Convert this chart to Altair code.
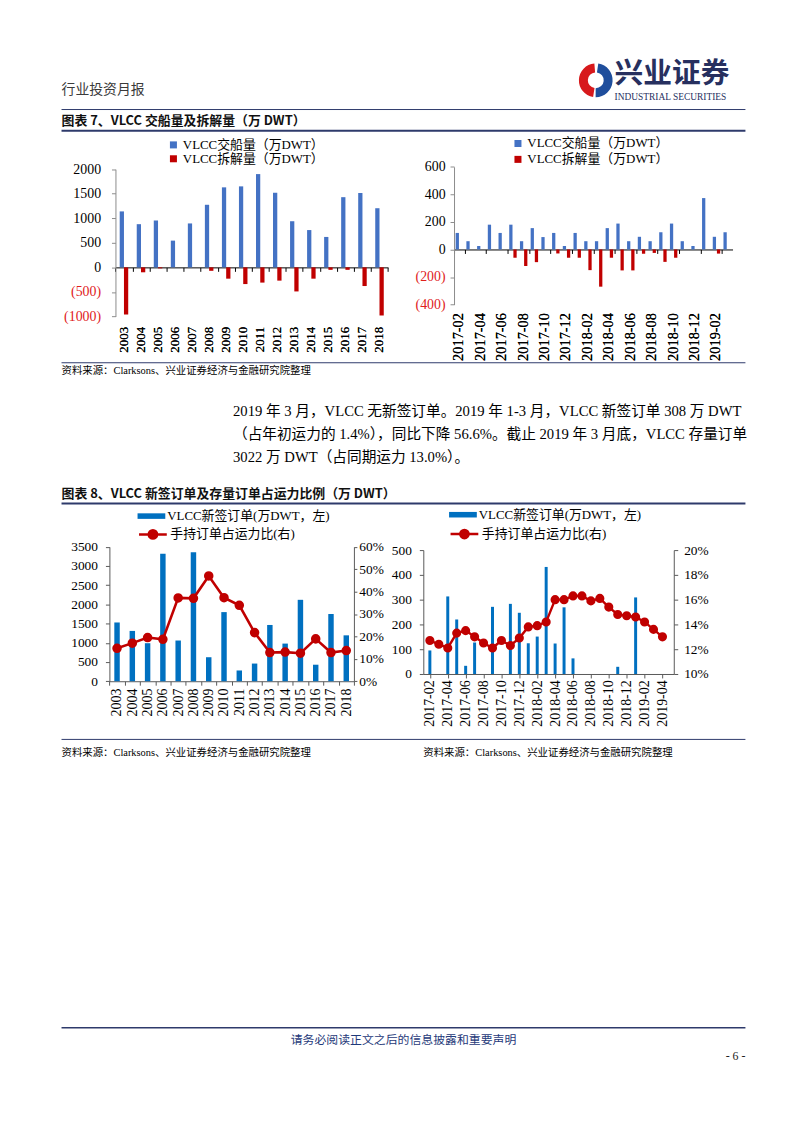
import altair as alt
import pandas as pd

# ---------------- data ----------------
years = ["2003", "2004", "2005", "2006", "2007", "2008", "2009", "2010",
         "2011", "2012", "2013", "2014", "2015", "2016", "2017", "2018"]
deliveries_annual = [1140, 880, 955, 545, 895, 1275, 1630, 1650, 1900, 1520, 940, 760, 620, 1430, 1515, 1205]
demolition_annual = [-960, -100, -20, 0, 0, -70, -230, -340, -310, -270, -490, -230, -50, -50, -380, -980]

months_del = ["2017-02", "2017-03", "2017-04", "2017-05", "2017-06", "2017-07", "2017-08", "2017-09",
              "2017-10", "2017-11", "2017-12", "2018-01", "2018-02", "2018-03", "2018-04", "2018-05",
              "2018-06", "2018-07", "2018-08", "2018-09", "2018-10", "2018-11", "2018-12", "2019-01",
              "2019-02", "2019-03"]
deliveries_monthly = [120, 60, 25, 180, 120, 180, 60, 155, 90, 120, 25, 120, 60, 60, 155, 188,
                      60, 92, 60, 125, 188, 60, 25, 373, 92, 125]
demolition_monthly = [0, 0, 0, 0, 0, -60, -120, -92, 0, -29, -60, -60, -150, -270, -60, -152,
                      -152, -31, -25, -90, -60, 0, 0, 0, -30, 0]

new_orders_annual = [1530, 1310, 990, 3320, 1060, 3360, 625, 1800, 280, 460, 1465, 980, 2120, 430, 1750, 1195]
orderbook_ratio_annual = [0.147, 0.170, 0.195, 0.187, 0.372, 0.370, 0.470, 0.373,
                          0.339, 0.217, 0.128, 0.130, 0.125, 0.189, 0.128, 0.137]

months_ord = months_del + ["2019-04"]
new_orders_monthly = [95, 0, 313, 220, 33, 127, 0, 271, 0, 283, 247, 124, 151, 432, 123, 269,
                      63, 0, 0, 0, 0, 29, 0, 309, 0, 0, 0]
orderbook_ratio_monthly = [0.127, 0.124, 0.121, 0.133, 0.135, 0.130, 0.125, 0.121, 0.127, 0.123,
                           0.129, 0.138, 0.139, 0.142, 0.160, 0.160, 0.163, 0.163, 0.159, 0.161,
                           0.154, 0.148, 0.147, 0.146, 0.142, 0.136, 0.130]

S_DEL = "VLCC交船量（万DWT）"
S_DEM = "VLCC拆解量（万DWT）"
L_ORD = "VLCC新签订单(万DWT，左)"
L_RAT = "手持订单占运力比(右)"

y1_ticks = [-1000, -500, 0, 500, 1000, 1500, 2000]
y2_ticks = [-400, -200, 0, 200, 400, 600]
y3_ticks = [0, 500, 1000, 1500, 2000, 2500, 3000, 3500]
r3_ticks = [0, 0.1, 0.2, 0.3, 0.4, 0.5, 0.6]
y4_ticks = [0, 100, 200, 300, 400, 500]
r4_ticks = [0.10, 0.12, 0.14, 0.16, 0.18, 0.20]

header_text = "行业投资月报"
logo_cn = "兴业证券"
logo_en = "INDUSTRIAL SECURITIES"
title7 = "图表 7、VLCC 交船量及拆解量（万 DWT）"
title8 = "图表 8、VLCC 新签订单及存量订单占运力比例（万 DWT）"
source_text = "资料来源：Clarksons、兴业证券经济与金融研究院整理"
paragraph = [
    "2019 年 3 月，VLCC 无新签订单。2019 年 1-3 月，VLCC 新签订单 308 万 DWT",
    "（占年初运力的 1.4%），同比下降 56.6%。截止 2019 年 3 月底，VLCC 存量订单",
    "3022 万 DWT（占同期运力 13.0%）。",
]
footer_text = "请务必阅读正文之后的信息披露和重要声明"
page_no = "- 6 -"

# ---------------- style ----------------
BLUE_A = "#4472C4"
RED_A = "#C00000"
BLUE_B = "#0070C0"
RED_B = "#C00000"
NEG_LABEL = "#E0201B"
NAVY = "#2E3A6B"
AXC = "#595959"
FONT_NUM = "Liberation Serif"
FONT_CN = "Liberation Serif, Noto Sans CJK SC"
FONT_SANS = "Noto Sans CJK SC"
VW, VH = 786, 1105          # one view covering the page (page coords minus 8px margin)
ONE = pd.DataFrame({"k": [0]})


def P(v):
    """page pixel -> view pixel"""
    return v - 8


def dtext(x, y, text, size=12, font=FONT_CN, weight="normal", color="#000000", align="left"):
    return alt.Chart(ONE).mark_text(text=text, fontSize=size, font=font, fontWeight=weight,
                                    color=color, align=align, baseline="middle").encode(
        x=alt.value(P(x)), y=alt.value(P(y)))


def drule(x0, x1, y, width=1, color=NAVY):
    return alt.Chart(ONE).mark_rule(strokeWidth=width, color=color).encode(
        x=alt.value(P(x0)), x2=alt.value(P(x1)), y=alt.value(P(y)))


def darc(cx, cy, t0, t1, r, r2, color):
    return alt.Chart(ONE).mark_arc(theta=t0, theta2=t1, radius=r, radius2=r2, color=color).encode(
        x=alt.value(P(cx)), y=alt.value(P(cy)))


# plot-area boxes in page pixels: left, right, top, bottom
C1 = (109.4, 384.4, 165.7, 314.3)
C2 = (451.0, 732.0, 163.3, 302.3)
C3 = (103.3, 350.0, 546.7, 682.3)
C4 = (420.0, 672.7, 550.0, 675.0)


def xr(c):
    return [P(c[0]), P(c[1])]


def yr(c):
    return [P(c[3]), P(c[2])]


def off_bottom(y_page):
    return -(VH - P(y_page))


def off_left(x_page):
    return -P(x_page)


def off_right(x_page):
    return -(VW - P(x_page))


neg_expr = "datum.value < 0 ? '(' + format(-datum.value, 'd') + ')' : format(datum.value, 'd')"
neg_color = {"condition": {"test": "datum.value < 0", "value": NEG_LABEL}, "value": "#000000"}

# ---------------- chart 1 ----------------
df1a = pd.DataFrame({"year": years, "series": S_DEL, "value": deliveries_annual})
df1b = pd.DataFrame({"year": years, "series": S_DEM, "value": demolition_annual})
xs1 = alt.Scale(domain=years, range=xr(C1), paddingInner=0, paddingOuter=0)
x1 = alt.X("year:N", sort=years, title=None, scale=xs1,
           axis=alt.Axis(orient="bottom", offset=off_bottom(C1[3]), labelAngle=270, domain=False,
                         ticks=False, labelFontSize=13, labelPadding=10, labelFont=FONT_NUM))
y1 = alt.Y("value:Q", title=None,
           scale=alt.Scale(domain=[-1000, 2000], range=yr(C1), nice=False, zero=False),
           axis=alt.Axis(orient="left", offset=off_left(C1[0]), values=y1_ticks, labelExpr=neg_expr,
                         labelColor=neg_color, grid=False, domainColor="#8c8c8c", tickColor="#8c8c8c",
                         tickSize=4, labelPadding=11, labelFontSize=14, labelFont=FONT_NUM))
col1 = alt.Color("series:N", scale=alt.Scale(domain=[S_DEL, S_DEM], range=[BLUE_A, RED_A]),
                 legend=alt.Legend(orient="none", legendX=P(C1[0]) + 52, legendY=P(C1[2]) - 31,
                                   title=None, symbolType="square", symbolSize=50, symbolStrokeWidth=0,
                                   rowPadding=0, labelOffset=3, labelFontSize=13))
b1a = alt.Chart(df1a).mark_bar(size=4.3, xOffset=-2.15).encode(x=x1, y=y1, color=col1)
b1b = alt.Chart(df1b).mark_bar(size=4.3, xOffset=2.15).encode(x=x1, y=y1, color=col1)
z1 = alt.Chart(pd.DataFrame({"year": years})).mark_point(opacity=0).encode(
    x=alt.X("year:N", sort=years, title=None, scale=xs1,
            axis=alt.Axis(orient="bottom", offset=off_bottom(C1[2] + (C1[3] - C1[2]) * 2 / 3),
                          labels=False, domain=True, ticks=True, tickBand="extent", tickSize=4,
                          domainColor="#000000", tickColor="#000000")))
chart1 = alt.layer(b1a, b1b, z1).resolve_axis(x="independent")

# ---------------- chart 2 ----------------
df2a = pd.DataFrame({"month": months_del, "series": S_DEL, "value": deliveries_monthly})
df2b = pd.DataFrame({"month": months_del, "series": S_DEM, "value": demolition_monthly})
xs2 = alt.Scale(domain=months_del, range=xr(C2), paddingInner=0, paddingOuter=0)
x2 = alt.X("month:N", sort=months_del, title=None, scale=xs2,
           axis=alt.Axis(orient="bottom", offset=off_bottom(C2[3]), labelAngle=270, domain=False,
                         ticks=False, values=months_del[::2], labelFontSize=14.5, labelPadding=8,
                         labelFont=FONT_NUM))
y2 = alt.Y("value:Q", title=None,
           scale=alt.Scale(domain=[-400, 600], range=yr(C2), nice=False, zero=False),
           axis=alt.Axis(orient="left", offset=off_left(C2[0]), values=y2_ticks, labelExpr=neg_expr,
                         labelColor=neg_color, grid=False, domainColor="#8c8c8c", tickColor="#8c8c8c",
                         tickSize=4, labelPadding=5, labelFontSize=14, labelFont=FONT_NUM))
col2 = alt.Color("series:N", scale=alt.Scale(domain=[S_DEL, S_DEM], range=[BLUE_A, RED_A]),
                 legend=alt.Legend(orient="none", legendX=P(C2[0]) + 58, legendY=P(C2[2]) - 30,
                                   title=None, symbolType="square", symbolSize=50, symbolStrokeWidth=0,
                                   rowPadding=2, labelOffset=3, labelFontSize=13))
b2a = alt.Chart(df2a).mark_bar(size=3.3, xOffset=-2.1).encode(x=x2, y=y2, color=col2)
b2b = alt.Chart(df2b).mark_bar(size=3.3, xOffset=2.1).encode(x=x2, y=y2, color=col2)
z2 = alt.Chart(pd.DataFrame({"month": months_del})).mark_point(opacity=0).encode(
    x=alt.X("month:N", sort=months_del, title=None, scale=xs2,
            axis=alt.Axis(orient="bottom", offset=off_bottom(C2[2] + (C2[3] - C2[2]) * 0.6),
                          labels=False, values=months_del[::2], domain=True, ticks=True,
                          tickBand="extent", tickSize=4, domainColor="#000000", tickColor="#000000")))
chart2 = alt.layer(b2a, b2b, z2).resolve_axis(x="independent")

# ---------------- chart 3 ----------------
df3 = pd.DataFrame({"year": years, "orders": new_orders_annual, "ratio": orderbook_ratio_annual,
                    "lab_o": L_ORD, "lab_r": L_RAT})
x3 = alt.X("year:N", sort=years, title=None,
           scale=alt.Scale(domain=years, range=xr(C3), paddingInner=0, paddingOuter=0),
           axis=alt.Axis(orient="bottom", offset=off_bottom(C3[3]), labelAngle=270, tickBand="extent",
                         tickSize=4, labelPadding=3, labelFontSize=14, labelFont=FONT_NUM,
                         domainColor=AXC, tickColor=AXC))
bars3 = alt.Chart(df3).mark_bar(size=5.5).encode(
    x=x3,
    y=alt.Y("orders:Q", title=None, scale=alt.Scale(domain=[0, 3500], range=yr(C3), nice=False),
            axis=alt.Axis(orient="left", offset=off_left(C3[0]), values=y3_ticks, format="d",
                          grid=False, tickSize=4, labelPadding=8, labelFontSize=13.5,
                          labelFont=FONT_NUM, domainColor=AXC, tickColor=AXC)),
    fill=alt.Fill("lab_o:N", scale=alt.Scale(domain=[L_ORD], range=[BLUE_B]),
                  legend=alt.Legend(orient="none", legendX=P(C3[0]) + 28.4, legendY=P(C3[2]) - 45,
                                    title=None, symbolType="M-1,-0.2H1V0.2H-1Z", symbolSize=784,
                                    symbolStrokeWidth=0, labelOffset=2, labelFontSize=13)),
)
line3 = alt.Chart(df3).mark_line(strokeWidth=2.6,
                                 point=alt.OverlayMarkDef(filled=True, size=58, color=RED_B)).encode(
    x=x3,
    y=alt.Y("ratio:Q", title=None, scale=alt.Scale(domain=[0, 0.6], range=yr(C3), nice=False),
            axis=alt.Axis(orient="right", offset=off_right(C3[1]), values=r3_ticks, format=".0%",
                          grid=False, tickSize=3, labelPadding=2, labelFontSize=13.5,
                          labelFont=FONT_NUM, domainColor=AXC, tickColor=AXC)),
    stroke=alt.Stroke("lab_r:N", scale=alt.Scale(domain=[L_RAT], range=[RED_B]),
                      legend=alt.Legend(orient="none", legendX=P(C3[0]) + 28.4, legendY=P(C3[2]) - 28,
                                        title=None,
                                        symbolType="M-1,0H1M-0.3,0A0.3,0.3,0,1,1,0.3,0A0.3,0.3,0,1,1,-0.3,0Z",
                                        symbolSize=784, symbolStrokeWidth=2.5, symbolFillColor=RED_B,
                                        labelOffset=2, labelFontSize=13)),
)
chart3 = alt.layer(bars3, line3).resolve_scale(y="independent").resolve_axis(y="independent")

# ---------------- chart 4 ----------------
df4 = pd.DataFrame({"idx": list(range(len(months_ord))), "month": months_ord,
                    "orders": new_orders_monthly, "ratio": orderbook_ratio_monthly,
                    "lab_o": L_ORD, "lab_r": L_RAT})
month_expr = "[" + ",".join("'%s'" % m for m in months_ord) + "][datum.value]"
x4 = alt.X("idx:Q", title=None,
           scale=alt.Scale(domain=[-0.18, 26.71], range=xr(C4), nice=False, zero=False),
           axis=alt.Axis(orient="bottom", offset=off_bottom(C4[3]),
                         values=list(range(0, len(months_ord), 2)), labelExpr=month_expr,
                         labelAngle=270, grid=False, tickSize=4, labelPadding=2, labelFontSize=14,
                         labelFont=FONT_NUM, domainColor=AXC, tickColor=AXC))
bars4 = alt.Chart(df4).mark_bar(size=3).encode(
    x=x4,
    y=alt.Y("orders:Q", title=None, scale=alt.Scale(domain=[0, 500], range=yr(C4), nice=False),
            axis=alt.Axis(orient="left", offset=off_left(C4[0]), values=y4_ticks, format="d",
                          grid=False, tickSize=4, labelPadding=8, labelFontSize=13.5,
                          labelFont=FONT_NUM, domainColor=AXC, tickColor=AXC)),
    fill=alt.Fill("lab_o:N", scale=alt.Scale(domain=[L_ORD], range=[BLUE_B]),
                  legend=alt.Legend(orient="none", legendX=P(C4[0]) + 26, legendY=P(C4[2]) - 49.7,
                                    title=None, symbolType="M-1,-0.2H1V0.2H-1Z", symbolSize=784,
                                    symbolStrokeWidth=0, labelOffset=2, labelFontSize=13)),
)
line4 = alt.Chart(df4).mark_line(strokeWidth=2.4,
                                 point=alt.OverlayMarkDef(filled=True, size=52, color=RED_B)).encode(
    x=x4,
    y=alt.Y("ratio:Q", title=None,
            scale=alt.Scale(domain=[0.10, 0.20], range=yr(C4), nice=False, zero=False),
            axis=alt.Axis(orient="right", offset=off_right(C4[1]), values=r4_ticks, format=".0%",
                          grid=False, tickSize=4, labelPadding=6, labelFontSize=13.5,
                          labelFont=FONT_NUM, domainColor=AXC, tickColor=AXC)),
    stroke=alt.Stroke("lab_r:N", scale=alt.Scale(domain=[L_RAT], range=[RED_B]),
                      legend=alt.Legend(orient="none", legendX=P(C4[0]) + 26, legendY=P(C4[2]) - 31.7,
                                        title=None,
                                        symbolType="M-1,0H1M-0.3,0A0.3,0.3,0,1,1,0.3,0A0.3,0.3,0,1,1,-0.3,0Z",
                                        symbolSize=784, symbolStrokeWidth=2.5, symbolFillColor=RED_B,
                                        labelOffset=2, labelFontSize=13)),
)
chart4 = alt.layer(bars4, line4).resolve_scale(y="independent").resolve_axis(y="independent")

# ---------------- page decoration ----------------
decor = [
    dtext(55, 86, header_text, size=14, font=FONT_SANS, color="#3a3a3a"),
    darc(594, 76, 3.3, 6.2, 17, 8, "#D7191C"),
    darc(594, 76, 0.15, 3.15, 17, 8, "#1F4E9C"),
    dtext(613, 70, logo_cn, size=29, font=FONT_SANS, weight="bold", color="#27305F"),
    dtext(613, 93, logo_en, size=9.5, font=FONT_NUM, color="#27305F"),
    drule(55, 745, 105.5, width=1),
    dtext(55, 117, title7, size=13, font=FONT_SANS, weight="bold", color="#111111"),
    drule(55, 745, 127, width=2),
    drule(55, 745, 361, width=1),
    dtext(55, 369, source_text, size=10.5),
    dtext(228, 411, paragraph[0], size=14.8),
    dtext(228, 434, paragraph[1], size=14.8),
    dtext(228, 457, paragraph[2], size=14.8),
    dtext(55, 493, title8, size=13, font=FONT_SANS, weight="bold", color="#111111"),
    drule(55, 745, 503, width=2),
    drule(55, 745, 741, width=1),
    dtext(55, 755, source_text, size=10.5),
    dtext(420, 755, source_text, size=10.5),
    drule(55, 745, 1032, width=1.5),
    dtext(400, 1044, footer_text, size=12, font=FONT_SANS, color="#1F3A7A", align="center"),
    dtext(745, 1060, page_no, size=12, font=FONT_NUM, color="#222222", align="right"),
]

chart = alt.layer(*decor, chart1, chart2, chart3, chart4).resolve_scale(
    x="independent", y="independent", color="independent", fill="independent", stroke="independent"
).resolve_axis(
    x="independent", y="independent"
).resolve_legend(
    color="independent", fill="independent", stroke="independent"
).properties(
    width=VW, height=VH, padding=0
).configure_view(strokeWidth=0).configure_axis(
    labelColor="#000000", grid=False
).configure_legend(
    labelFont=FONT_CN, labelColor="#000000", labelLimit=400
)

chart.save("out.html", embed_options={"renderer": "svg", "actions": False})
